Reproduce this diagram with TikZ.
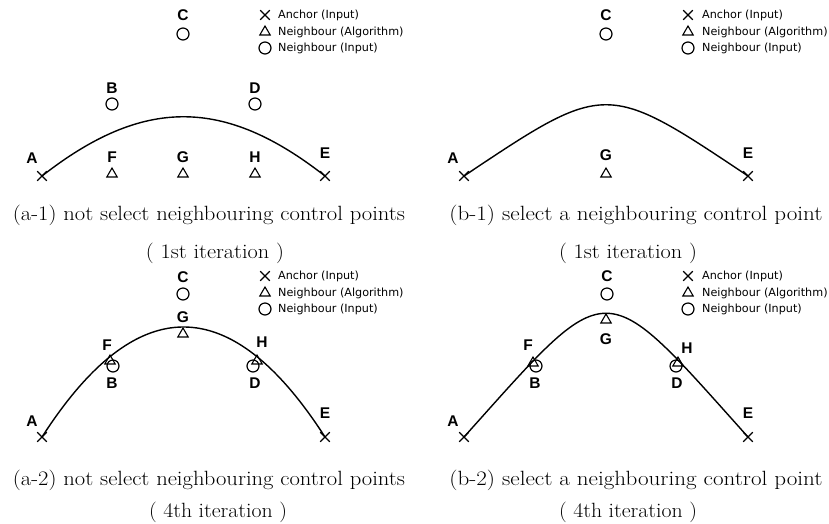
\documentclass[tikz,border=0pt]{standalone}
\usepackage{graphicx}
\usepackage{fontspec}
\newfontfamily\lblfont{Liberation Sans}
\newfontfamily\legfont{DejaVu Sans}
\usetikzlibrary{shapes.geometric,shapes.misc}
\tikzset{
  anchorpt/.style={cross out, draw, minimum size=8.5pt, inner sep=0pt, line width=1.1pt},
  algpt/.style={regular polygon, regular polygon sides=3, draw, minimum size=12pt, inner sep=0pt, line width=1.1pt},
  inpt/.style={circle, draw, minimum size=12pt, inner sep=0pt, line width=1.2pt},
  lbl/.style={font=\lblfont\bfseries\fontsize{15.5}{16}\selectfont, inner sep=0pt},
  legtxt/.style={font=\legfont\fontsize{11.2}{13}\selectfont, anchor=west, inner sep=0pt},
  captxt/.style={font=\fontsize{20.6}{24}\selectfont, anchor=base, inner sep=0pt},
  curveline/.style={line width=1.4pt},
}
\begin{document}
\begin{tikzpicture}[x=1pt,y=-1pt]
\useasboundingbox (0,0) rectangle (829,523);

% ---------------- (a-1) ----------------
\node[lbl] (a1lC) at (183,15) {C};
\node[inpt] (a1C) at (183,34) {};
\node[lbl] (a1lB) at (112,88) {B};
\node[inpt] (a1B) at (112,104) {};
\node[lbl] (a1lD) at (255,88) {D};
\node[inpt] (a1D) at (255,104) {};
\node[lbl] (a1lA) at (32,158) {A};
\node[anchorpt] (a1A) at (42,176) {};
\node[lbl] (a1lF) at (112,157) {F};
\node[algpt] (a1F) at (112,174) {};
\node[lbl] (a1lG) at (183,157) {G};
\node[algpt] (a1G) at (183,174) {};
\node[lbl] (a1lH) at (255,157) {H};
\node[algpt] (a1H) at (255,174) {};
\node[lbl] (a1lE) at (325,153) {E};
\node[anchorpt] (a1E) at (325,176) {};
\draw[curveline] (a1A.center) .. controls (143,97) and (224,97) .. (a1E.center);
% legend
\node[anchorpt] (a1k1) at (265,15) {};
\node[legtxt] (a1t1) at (278,15) {Anchor (Input)};
\node[algpt] (a1k2) at (265,32) {};
\node[legtxt] (a1t2) at (278,32) {Neighbour (Algorithm)};
\node[inpt] (a1k3) at (265,48) {};
\node[legtxt] (a1t3) at (278,48) {Neighbour (Input)};
\node[captxt] (a1c1) at (209,220) {\resizebox{392pt}{\height}{(a-1) not select neighbouring control points}};
\node[captxt] (a1c2) at (215,258) {\resizebox{138pt}{\height}{( 1st iteration )}};

% ---------------- (b-1) ----------------
\node[lbl] (b1lC) at (606,15) {C};
\node[inpt] (b1C) at (606,34) {};
\node[lbl] (b1lA) at (453,158) {A};
\node[anchorpt] (b1A) at (464,176) {};
\node[lbl] (b1lG) at (606,155) {G};
\node[algpt] (b1G) at (606,174) {};
\node[lbl] (b1lE) at (748,153) {E};
\node[anchorpt] (b1E) at (748,176) {};
\draw[curveline] (b1A.center) .. controls (606,81) and (606,81) .. (b1E.center);
\node[anchorpt] (b1k1) at (688,15) {};
\node[legtxt] (b1t1) at (702,15) {Anchor (Input)};
\node[algpt] (b1k2) at (688,32) {};
\node[legtxt] (b1t2) at (702,32) {Neighbour (Algorithm)};
\node[inpt] (b1k3) at (688,48) {};
\node[legtxt] (b1t3) at (702,48) {Neighbour (Input)};
\node[captxt] (b1c1) at (636,220) {\resizebox{373pt}{\height}{(b-1) select a neighbouring control point}};
\node[captxt] (b1c2) at (628,258) {\resizebox{138pt}{\height}{( 1st iteration )}};

% ---------------- (a-2) ----------------
\node[lbl] (a2lC) at (183,277) {C};
\node[inpt] (a2C) at (183,294) {};
\node[lbl] (a2lG) at (183,317) {G};
\node[algpt] (a2G) at (183,334) {};
\node[lbl] (a2lF) at (107,345) {F};
\node[algpt] (a2F) at (110,361) {};
\node[inpt] (a2B) at (113,366) {};
\node[lbl] (a2lB) at (112,383) {B};
\node[lbl] (a2lH) at (262,342) {H};
\node[algpt] (a2H) at (257,361) {};
\node[inpt] (a2D) at (253,366) {};
\node[lbl] (a2lD) at (255,383) {D};
\node[lbl] (a2lA) at (32,421) {A};
\node[anchorpt] (a2A) at (42,437) {};
\node[lbl] (a2lE) at (325,413) {E};
\node[anchorpt] (a2E) at (325,437) {};
\draw[curveline] (a2A.center) .. controls (136.3,290.3) and (230.7,290.3) .. (a2E.center);
\node[anchorpt] (a2k1) at (265,276) {};
\node[legtxt] (a2t1) at (278,276) {Anchor (Input)};
\node[algpt] (a2k2) at (265,293) {};
\node[legtxt] (a2t2) at (278,293) {Neighbour (Algorithm)};
\node[inpt] (a2k3) at (265,309) {};
\node[legtxt] (a2t3) at (278,309) {Neighbour (Input)};
\node[captxt] (a2c1) at (209,485) {\resizebox{392pt}{\height}{(a-2) not select neighbouring control points}};
\node[captxt] (a2c2) at (218,517) {\resizebox{138pt}{\height}{( 4th iteration )}};

% ---------------- (b-2) ----------------
\node[lbl] (b2lC) at (607,276) {C};
\node[inpt] (b2C) at (607,294) {};
\node[algpt] (b2G) at (606,320) {};
\node[lbl] (b2lG) at (606,339) {G};
\node[lbl] (b2lF) at (528,345) {F};
\node[algpt] (b2F) at (533,363) {};
\node[inpt] (b2B) at (536,366) {};
\node[lbl] (b2lB) at (535,383) {B};
\node[lbl] (b2lH) at (687,348) {H};
\node[algpt] (b2H) at (678,363) {};
\node[inpt] (b2D) at (676,366) {};
\node[lbl] (b2lD) at (677,383) {D};
\node[lbl] (b2lA) at (453,421) {A};
\node[anchorpt] (b2A) at (464,437) {};
\node[lbl] (b2lE) at (748,413) {E};
\node[anchorpt] (b2E) at (748,437) {};
\draw[curveline] (b2A.center) .. controls (612,272) and (600,272) .. (b2E.center);
\node[anchorpt] (b2k1) at (688,276) {};
\node[legtxt] (b2t1) at (702,276) {Anchor (Input)};
\node[algpt] (b2k2) at (688,293) {};
\node[legtxt] (b2t2) at (702,293) {Neighbour (Algorithm)};
\node[inpt] (b2k3) at (688,309) {};
\node[legtxt] (b2t3) at (702,309) {Neighbour (Input)};
\node[captxt] (b2c1) at (636,485) {\resizebox{373pt}{\height}{(b-2) select a neighbouring control point}};
\node[captxt] (b2c2) at (628,517) {\resizebox{138pt}{\height}{( 4th iteration )}};
\end{tikzpicture}
\end{document}
